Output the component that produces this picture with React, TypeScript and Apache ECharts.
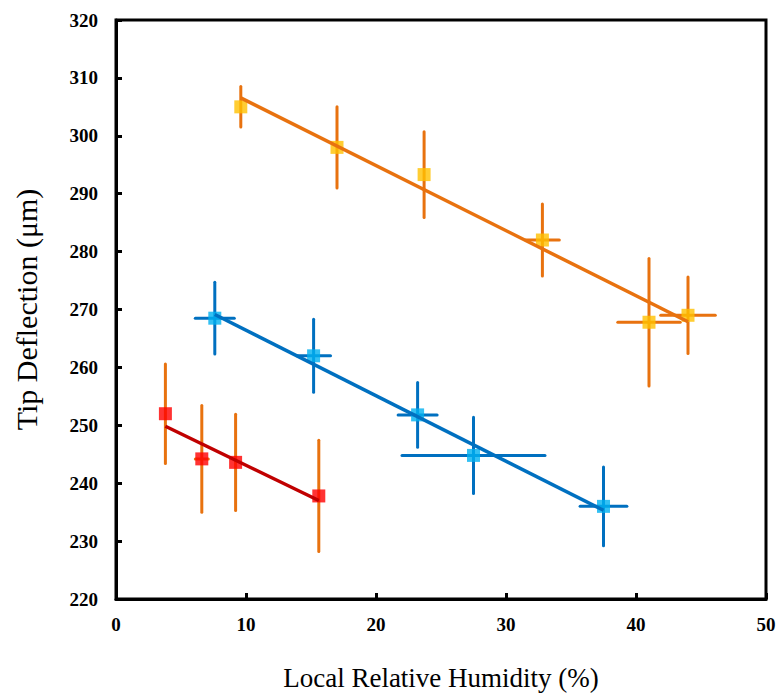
import React, { useEffect, useRef } from "react";
import * as echarts from "echarts";

// ---- Data ----
const orangeX = [9.6, 17.0, 23.7, 32.8, 41.0, 44.0];
const orangeY = [305.0, 298.0, 293.3, 282.0, 267.8, 269.0];
const orangeXErr = [0, 0, 0, 1.3, 2.4, 2.1];
const orangeYErr = [3.5, 7.0, 7.4, 6.2, 11.0, 6.6];

const blueX = [7.6, 15.2, 23.2, 27.5, 37.5];
const blueY = [268.5, 262.0, 251.8, 244.8, 236.0];
const blueXErr = [1.5, 1.3, 1.5, 5.5, 1.8];
const blueYErr = [6.2, 6.3, 5.6, 6.6, 6.8];

const redX = [3.8, 6.6, 9.2, 15.6];
const redY = [252.0, 244.2, 243.6, 237.8];
const redXErr = [0, 0.5, 0, 0];
const redYErr = [8.6, 9.2, 8.3, 9.6];

const xTicks = [0, 10, 20, 30, 40, 50];
const yTicks = [220, 230, 240, 250, 260, 270, 280, 290, 300, 310, 320];

// ---- helpers ----
function fitLine(xs: number[], ys: number[]) {
  const n = xs.length;
  const mx = xs.reduce((a, b) => a + b, 0) / n;
  const my = ys.reduce((a, b) => a + b, 0) / n;
  let sxy = 0, sxx = 0;
  for (let i = 0; i < n; i++) {
    sxy += (xs[i] - mx) * (ys[i] - my);
    sxx += (xs[i] - mx) * (xs[i] - mx);
  }
  const b = sxy / sxx;
  const a = my - b * mx;
  const x0 = Math.min(...xs), x1 = Math.max(...xs);
  return [[x0, a + b * x0], [x1, a + b * x1]];
}

function errSeries(xs: number[], ys: number[], xe: number[], ye: number[], color: string) {
  return {
    type: "custom",
    z: 2,
    data: xs.map((x, i) => [x, ys[i], xe[i], ye[i]]),
    renderItem: (params: any, api: any) => {
      const x = api.value(0), y = api.value(1), dx = api.value(2), dy = api.value(3);
      const children: any[] = [];
      const style = { stroke: color, lineWidth: 3, lineCap: "round" };
      if (dy > 0) {
        const p1 = api.coord([x, y - dy]);
        const p2 = api.coord([x, y + dy]);
        children.push({ type: "line", shape: { x1: p1[0], y1: p1[1], x2: p2[0], y2: p2[1] }, style });
      }
      if (dx > 0) {
        const p1 = api.coord([x - dx, y]);
        const p2 = api.coord([x + dx, y]);
        children.push({ type: "line", shape: { x1: p1[0], y1: p1[1], x2: p2[0], y2: p2[1] }, style });
      }
      return { type: "group", children };
    },
  };
}

function pointSeries(xs: number[], ys: number[], color: string) {
  return {
    type: "scatter",
    z: 3,
    symbol: "rect",
    symbolSize: 13,
    itemStyle: { color },
    data: xs.map((x, i) => [x, ys[i]]),
  };
}

function trendSeries(xs: number[], ys: number[], color: string) {
  return {
    type: "line",
    z: 4,
    symbol: "none",
    lineStyle: { color, width: 3.5 },
    data: fitLine(xs, ys),
  };
}

const ORANGE = "#E8720F";
const YELLOW = "#FFC000";
const BLUE = "#0070C0";
const CYAN = "#00B0F0";
const RED = "#FF0000";
const DARKRED = "#C00000";
const SERIF = "Liberation Serif";

export default function App() {
  const ref = useRef<HTMLDivElement>(null);
  useEffect(() => {
    if (!ref.current) return;
    const chart = echarts.init(ref.current, null, { renderer: "svg" });
    chart.setOption({
      animation: false,
      backgroundColor: "#ffffff",
      textStyle: { fontFamily: SERIF },
      grid: {
        left: 116,
        right: 13,
        top: 20,
        bottom: 92,
        show: true,
        borderColor: "#000",
        borderWidth: 3,
      },
      xAxis: {
        type: "value",
        min: xTicks[0],
        max: xTicks[xTicks.length - 1],
        interval: 10,
        name: "Local Relative Humidity (%)",
        nameLocation: "middle",
        nameGap: 65,
        nameTextStyle: { fontFamily: SERIF, fontSize: 27, color: "#000" },
        axisLine: { show: true, lineStyle: { color: "#000", width: 3 } },
        axisTick: { show: true, inside: true, length: 6, lineStyle: { color: "#000", width: 3 } },
        axisLabel: { fontFamily: SERIF, fontSize: 19, fontWeight: "bold", color: "#000", margin: 16 },
        splitLine: { show: false },
      },
      yAxis: {
        type: "value",
        min: yTicks[0],
        max: yTicks[yTicks.length - 1],
        interval: 10,
        name: "Tip Deflection (μm)",
        nameLocation: "middle",
        nameGap: 75,
        nameTextStyle: { fontFamily: SERIF, fontSize: 30, color: "#000" },
        axisLine: { show: true, lineStyle: { color: "#000", width: 3 } },
        axisTick: { show: true, inside: true, length: 6, lineStyle: { color: "#000", width: 3 } },
        axisLabel: { fontFamily: SERIF, fontSize: 19, fontWeight: "bold", color: "#000", margin: 18 },
        splitLine: { show: false },
      },
      series: [
        errSeries(orangeX, orangeY, orangeXErr, orangeYErr, ORANGE),
        errSeries(blueX, blueY, blueXErr, blueYErr, BLUE),
        errSeries(redX, redY, redXErr, redYErr, ORANGE),
        pointSeries(orangeX, orangeY, YELLOW),
        pointSeries(blueX, blueY, CYAN),
        pointSeries(redX, redY, RED),
        trendSeries(orangeX, orangeY, ORANGE),
        trendSeries(blueX, blueY, BLUE),
        trendSeries(redX, redY, DARKRED),
      ],
    });
    return () => chart.dispose();
  }, []);
  return (
    <div
      ref={ref}
      style={{ position: "fixed", left: 0, top: 0, width: 779, height: 696, background: "#fff" }}
    />
  );
}
